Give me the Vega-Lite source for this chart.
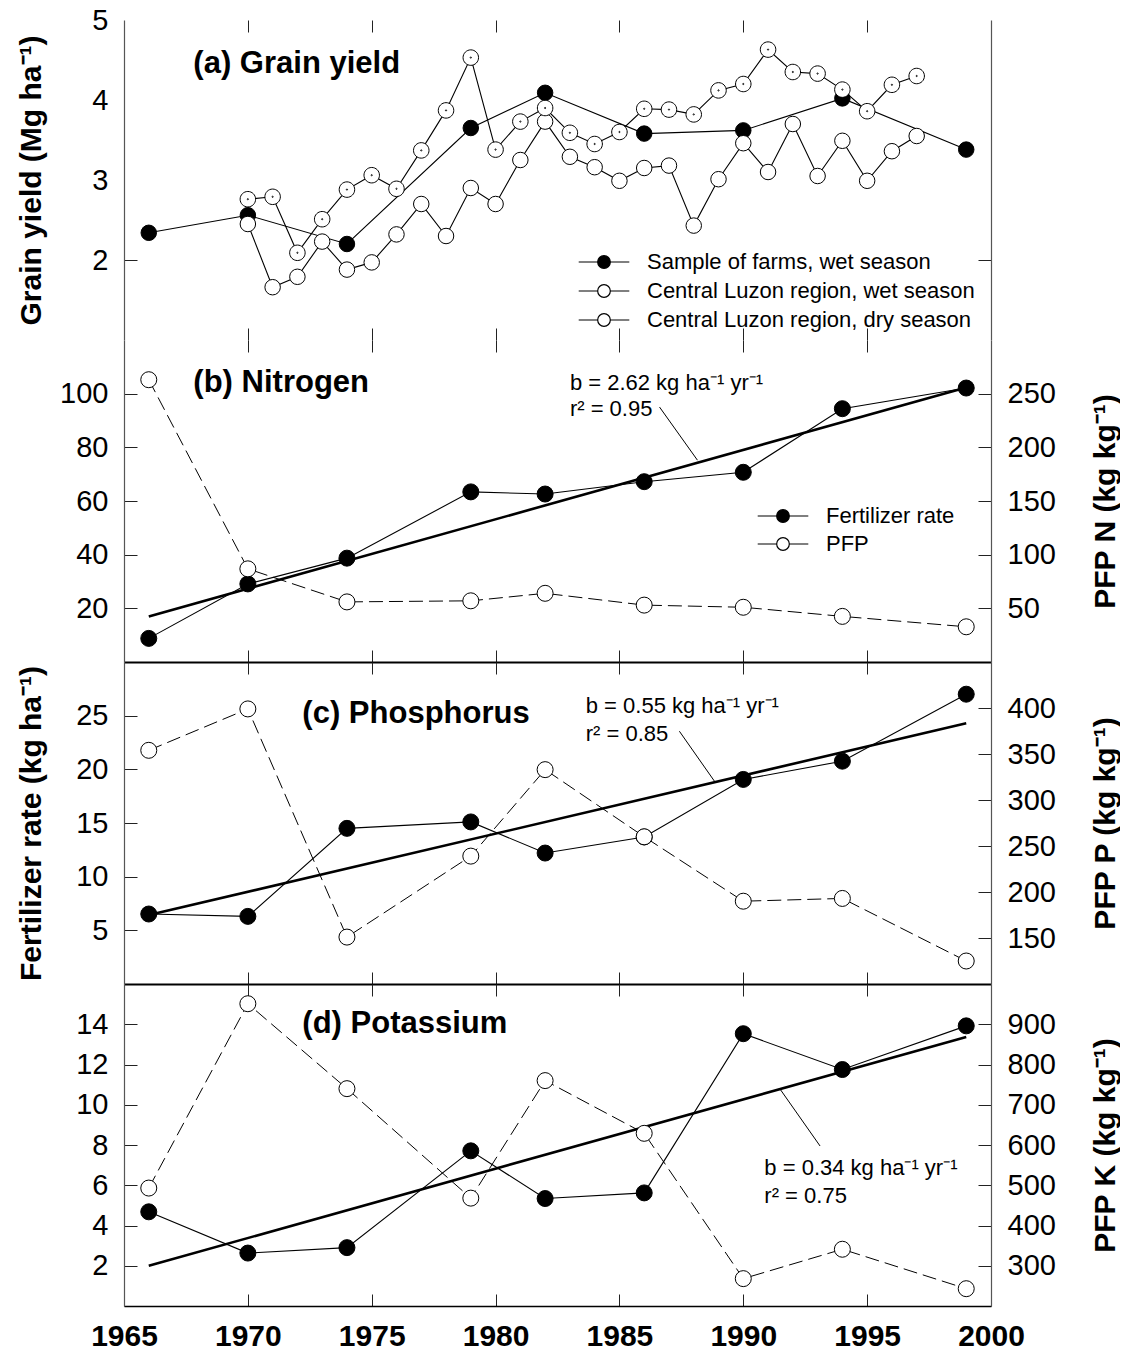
{
  "$schema": "https://vega.github.io/schema/vega-lite/v6.json",
  "background": "white",
  "padding": {"left": 15, "top": 6, "right": 0, "bottom": 0},
  "spacing": 0,
  "bounds": "flush",
  "config": {
    "view": {"stroke": null},
    "font": "Liberation Sans",
    "axis": {"labelFont": "Liberation Sans", "titleFont": "Liberation Sans", "labelColor": "black", "titleColor": "black", "tickColor": "#222", "tickWidth": 1, "domainColor": "#555", "domainWidth": 1.2, "grid": false, "labelFlush": false, "labelOverlap": false},
    "legend": {"labelFont": "Liberation Sans", "labelColor": "black"}
  },
  "datasets": {
    "yield": [
      {"series": "Sample of farms, wet season", "year": 1966, "value": 2.34},
      {"series": "Sample of farms, wet season", "year": 1970, "value": 2.56},
      {"series": "Sample of farms, wet season", "year": 1974, "value": 2.20},
      {"series": "Sample of farms, wet season", "year": 1979, "value": 3.65},
      {"series": "Sample of farms, wet season", "year": 1982, "value": 4.09},
      {"series": "Sample of farms, wet season", "year": 1986, "value": 3.58},
      {"series": "Sample of farms, wet season", "year": 1990, "value": 3.62},
      {"series": "Sample of farms, wet season", "year": 1994, "value": 4.02},
      {"series": "Sample of farms, wet season", "year": 1999, "value": 3.38},
      {"series": "Central Luzon region, wet season", "year": 1970, "value": 2.45},
      {"series": "Central Luzon region, wet season", "year": 1971, "value": 1.66},
      {"series": "Central Luzon region, wet season", "year": 1972, "value": 1.79},
      {"series": "Central Luzon region, wet season", "year": 1973, "value": 2.23},
      {"series": "Central Luzon region, wet season", "year": 1974, "value": 1.88},
      {"series": "Central Luzon region, wet season", "year": 1975, "value": 1.97},
      {"series": "Central Luzon region, wet season", "year": 1976, "value": 2.32},
      {"series": "Central Luzon region, wet season", "year": 1977, "value": 2.70},
      {"series": "Central Luzon region, wet season", "year": 1978, "value": 2.30},
      {"series": "Central Luzon region, wet season", "year": 1979, "value": 2.90},
      {"series": "Central Luzon region, wet season", "year": 1980, "value": 2.70},
      {"series": "Central Luzon region, wet season", "year": 1981, "value": 3.25},
      {"series": "Central Luzon region, wet season", "year": 1982, "value": 3.73},
      {"series": "Central Luzon region, wet season", "year": 1983, "value": 3.29},
      {"series": "Central Luzon region, wet season", "year": 1984, "value": 3.16},
      {"series": "Central Luzon region, wet season", "year": 1985, "value": 2.99},
      {"series": "Central Luzon region, wet season", "year": 1986, "value": 3.15},
      {"series": "Central Luzon region, wet season", "year": 1987, "value": 3.18},
      {"series": "Central Luzon region, wet season", "year": 1988, "value": 2.43},
      {"series": "Central Luzon region, wet season", "year": 1989, "value": 3.01},
      {"series": "Central Luzon region, wet season", "year": 1990, "value": 3.46},
      {"series": "Central Luzon region, wet season", "year": 1991, "value": 3.10},
      {"series": "Central Luzon region, wet season", "year": 1992, "value": 3.70},
      {"series": "Central Luzon region, wet season", "year": 1993, "value": 3.05},
      {"series": "Central Luzon region, wet season", "year": 1994, "value": 3.49},
      {"series": "Central Luzon region, wet season", "year": 1995, "value": 2.99},
      {"series": "Central Luzon region, wet season", "year": 1996, "value": 3.36},
      {"series": "Central Luzon region, wet season", "year": 1997, "value": 3.55},
      {"series": "Central Luzon region, dry season", "year": 1970, "value": 2.76},
      {"series": "Central Luzon region, dry season", "year": 1971, "value": 2.79},
      {"series": "Central Luzon region, dry season", "year": 1972, "value": 2.09},
      {"series": "Central Luzon region, dry season", "year": 1973, "value": 2.51},
      {"series": "Central Luzon region, dry season", "year": 1974, "value": 2.88},
      {"series": "Central Luzon region, dry season", "year": 1975, "value": 3.06},
      {"series": "Central Luzon region, dry season", "year": 1976, "value": 2.89},
      {"series": "Central Luzon region, dry season", "year": 1977, "value": 3.37},
      {"series": "Central Luzon region, dry season", "year": 1978, "value": 3.87},
      {"series": "Central Luzon region, dry season", "year": 1979, "value": 4.53},
      {"series": "Central Luzon region, dry season", "year": 1980, "value": 3.38},
      {"series": "Central Luzon region, dry season", "year": 1981, "value": 3.73},
      {"series": "Central Luzon region, dry season", "year": 1982, "value": 3.90},
      {"series": "Central Luzon region, dry season", "year": 1983, "value": 3.59},
      {"series": "Central Luzon region, dry season", "year": 1984, "value": 3.45},
      {"series": "Central Luzon region, dry season", "year": 1985, "value": 3.60},
      {"series": "Central Luzon region, dry season", "year": 1986, "value": 3.89},
      {"series": "Central Luzon region, dry season", "year": 1987, "value": 3.88},
      {"series": "Central Luzon region, dry season", "year": 1988, "value": 3.82},
      {"series": "Central Luzon region, dry season", "year": 1989, "value": 4.12},
      {"series": "Central Luzon region, dry season", "year": 1990, "value": 4.20},
      {"series": "Central Luzon region, dry season", "year": 1991, "value": 4.63},
      {"series": "Central Luzon region, dry season", "year": 1992, "value": 4.35},
      {"series": "Central Luzon region, dry season", "year": 1993, "value": 4.33},
      {"series": "Central Luzon region, dry season", "year": 1994, "value": 4.13},
      {"series": "Central Luzon region, dry season", "year": 1995, "value": 3.86},
      {"series": "Central Luzon region, dry season", "year": 1996, "value": 4.19},
      {"series": "Central Luzon region, dry season", "year": 1997, "value": 4.30}
    ],
    "nutrients": [
      {"nutrient": "N", "year": 1966, "rate": 8.8, "pfp": 263},
      {"nutrient": "N", "year": 1970, "rate": 29.1, "pfp": 86.8},
      {"nutrient": "N", "year": 1974, "rate": 38.7, "pfp": 56},
      {"nutrient": "N", "year": 1979, "rate": 63.4, "pfp": 57},
      {"nutrient": "N", "year": 1982, "rate": 62.6, "pfp": 64},
      {"nutrient": "N", "year": 1986, "rate": 67.2, "pfp": 53},
      {"nutrient": "N", "year": 1990, "rate": 70.7, "pfp": 51},
      {"nutrient": "N", "year": 1994, "rate": 94.4, "pfp": 42.5},
      {"nutrient": "N", "year": 1999, "rate": 102.1, "pfp": 32.8},
      {"nutrient": "P", "year": 1966, "rate": 6.52, "pfp": 354},
      {"nutrient": "P", "year": 1970, "rate": 6.3, "pfp": 399},
      {"nutrient": "P", "year": 1974, "rate": 14.5, "pfp": 151},
      {"nutrient": "P", "year": 1979, "rate": 15.1, "pfp": 239},
      {"nutrient": "P", "year": 1982, "rate": 12.2, "pfp": 333},
      {"nutrient": "P", "year": 1986, "rate": 13.7, "pfp": 260},
      {"nutrient": "P", "year": 1990, "rate": 19.06, "pfp": 190},
      {"nutrient": "P", "year": 1994, "rate": 20.76, "pfp": 193},
      {"nutrient": "P", "year": 1999, "rate": 27.0, "pfp": 125},
      {"nutrient": "K", "year": 1966, "rate": 4.68, "pfp": 493},
      {"nutrient": "K", "year": 1970, "rate": 2.63, "pfp": 951},
      {"nutrient": "K", "year": 1974, "rate": 2.9, "pfp": 740},
      {"nutrient": "K", "year": 1979, "rate": 7.71, "pfp": 468},
      {"nutrient": "K", "year": 1982, "rate": 5.34, "pfp": 760},
      {"nutrient": "K", "year": 1986, "rate": 5.62, "pfp": 629},
      {"nutrient": "K", "year": 1990, "rate": 13.53, "pfp": 268},
      {"nutrient": "K", "year": 1994, "rate": 11.75, "pfp": 341},
      {"nutrient": "K", "year": 1999, "rate": 13.92, "pfp": 243}
    ],
    "trend": [
      {"nutrient": "N", "year": 1966, "fit": 17.0},
      {"nutrient": "N", "year": 1999, "fit": 102.3},
      {"nutrient": "P", "year": 1966, "fit": 6.42},
      {"nutrient": "P", "year": 1999, "fit": 24.3},
      {"nutrient": "K", "year": 1966, "fit": 2.0},
      {"nutrient": "K", "year": 1999, "fit": 13.37}
    ],
    "notes": [
      {"panel": "a", "kind": "label", "text": "(a) Grain yield"},
      {"panel": "b", "kind": "label", "text": "(b) Nitrogen"},
      {"panel": "b", "kind": "slope", "text": "b = 2.62 kg ha⁻¹ yr⁻¹"},
      {"panel": "b", "kind": "r2", "text": "r² = 0.95"},
      {"panel": "b", "kind": "leader", "text": ""},
      {"panel": "c", "kind": "label", "text": "(c) Phosphorus"},
      {"panel": "c", "kind": "slope", "text": "b = 0.55 kg ha⁻¹ yr⁻¹"},
      {"panel": "c", "kind": "r2", "text": "r² = 0.85"},
      {"panel": "c", "kind": "leader", "text": ""},
      {"panel": "d", "kind": "label", "text": "(d) Potassium"},
      {"panel": "d", "kind": "slope", "text": "b = 0.34 kg ha⁻¹ yr⁻¹"},
      {"panel": "d", "kind": "r2", "text": "r² = 0.75"},
      {"panel": "d", "kind": "leader", "text": ""}
    ]
  },
  "resolve": {"scale": {"fill": "independent", "shape": "independent"}},
  "vconcat": [
    {
      "width": 867,
      "height": 320,
      "data": {"name": "yield"},
      "layer": [
        {
          "mark": {"type": "line", "stroke": "black", "strokeWidth": 1.1},
          "encoding": {
            "x": {"field": "year", "type": "quantitative", "scale": {"domain": [1965, 2000], "nice": false, "zero": false},
                  "axis": {"orient": "top", "values": [1970, 1975, 1980, 1985, 1990, 1995], "labels": false, "domain": false, "tickSize": -12, "title": null}},
            "y": {"field": "value", "type": "quantitative", "scale": {"domain": [1, 5], "nice": false, "zero": false},
                  "axis": {"orient": "left", "values": [2, 3, 4, 5], "tickSize": -13, "tickOpacity": {"condition": {"test": "datum.value == 2", "value": 1}, "value": 0}, "labelPadding": 29, "labelFontSize": 29, "title": "Grain yield (Mg ha⁻¹)", "titleFontSize": 30, "titleFontWeight": "bold", "titleX": -93, "titleBaseline": "middle"}},
            "detail": {"field": "series", "type": "nominal"}
          }
        },
        {
          "transform": [{"filter": "datum.series == 'Sample of farms, wet season'"}],
          "mark": {"type": "point", "shape": "circle", "filled": true, "stroke": "black", "strokeWidth": 1, "size": 240, "opacity": 1},
          "encoding": {
            "x": {"field": "year", "type": "quantitative", "scale": {"domain": [1965, 2000], "nice": false, "zero": false},
                  "axis": {"orient": "bottom", "values": [1970, 1975, 1980, 1985, 1990, 1995], "labels": false, "domain": false, "tickSize": -12, "title": null}},
            "y": {"field": "value", "type": "quantitative", "scale": {"domain": [1, 5], "nice": false, "zero": false},
                  "axis": {"orient": "right", "values": [2, 3, 4, 5], "labels": false, "tickSize": -13, "tickOpacity": {"condition": {"test": "datum.value == 2", "value": 1}, "value": 0}, "title": null}},
            "fill": {"datum": "Sample of farms, wet season", "type": "nominal",
                     "scale": {"domain": ["Sample of farms, wet season", "Central Luzon region, wet season", "Central Luzon region, dry season"], "range": ["black", "white", "white"]},
                     "legend": {"title": null, "orient": "none", "legendX": 469, "legendY": 231, "symbolType": "M-4,0H-1M1,0H4M-1,0A1,1,0,1,1,1,0A1,1,0,1,1,-1,0Z", "symbolSize": 160, "symbolStrokeColor": "black", "symbolStrokeWidth": 1.2, "symbolOpacity": 1, "labelFontSize": 22, "labelOffset": 32, "labelLimit": 600, "rowPadding": 7, "padding": 0}}
          }
        },
        {
          "transform": [{"filter": "datum.series == 'Central Luzon region, wet season'"}],
          "mark": {"type": "point", "shape": "circle", "filled": true, "stroke": "black", "strokeWidth": 1, "size": 240, "opacity": 1},
          "encoding": {
            "x": {"field": "year", "type": "quantitative", "axis": null},
            "y": {"field": "value", "type": "quantitative", "axis": null},
            "fill": {"datum": "Central Luzon region, wet season", "type": "nominal",
                     "scale": {"domain": ["Sample of farms, wet season", "Central Luzon region, wet season", "Central Luzon region, dry season"], "range": ["black", "white", "white"]},
                     "legend": {"title": null, "orient": "none", "legendX": 469, "legendY": 231, "symbolType": "M-4,0H-1M1,0H4M-1,0A1,1,0,1,1,1,0A1,1,0,1,1,-1,0Z", "symbolSize": 160, "symbolStrokeColor": "black", "symbolStrokeWidth": 1.2, "symbolOpacity": 1, "labelFontSize": 22, "labelOffset": 32, "labelLimit": 600, "rowPadding": 7, "padding": 0}}
          }
        },
        {
          "transform": [{"filter": "datum.series == 'Central Luzon region, dry season'"}],
          "mark": {"type": "point", "shape": "M-1,0A1,1,0,1,1,1,0A1,1,0,1,1,-1,0ZM-0.08,0A0.08,0.08,0,1,1,0.08,0A0.08,0.08,0,1,1,-0.08,0Z", "filled": true, "stroke": "black", "strokeWidth": 1, "size": 240, "opacity": 1},
          "encoding": {
            "x": {"field": "year", "type": "quantitative", "axis": null},
            "y": {"field": "value", "type": "quantitative", "axis": null},
            "fill": {"datum": "Central Luzon region, dry season", "type": "nominal",
                     "scale": {"domain": ["Sample of farms, wet season", "Central Luzon region, wet season", "Central Luzon region, dry season"], "range": ["black", "white", "white"]},
                     "legend": {"title": null, "orient": "none", "legendX": 469, "legendY": 231, "symbolType": "M-4,0H-1M1,0H4M-1,0A1,1,0,1,1,1,0A1,1,0,1,1,-1,0Z", "symbolSize": 160, "symbolStrokeColor": "black", "symbolStrokeWidth": 1.2, "symbolOpacity": 1, "labelFontSize": 22, "labelOffset": 32, "labelLimit": 600, "rowPadding": 7, "padding": 0}}
          }
        },
        {
          "data": {"name": "notes"},
          "transform": [{"filter": "datum.panel == 'a' && datum.kind == 'label'"}],
          "mark": {"type": "text", "align": "left", "baseline": "middle", "fontSize": 31, "fontWeight": "bold", "color": "black"},
          "encoding": {
            "x": {"datum": 1967.8, "type": "quantitative", "axis": null},
            "y": {"datum": 4.45, "type": "quantitative", "axis": null},
            "text": {"field": "text"}
          }
        }
      ]
    },
    {
      "width": 867,
      "height": 322,
      "resolve": {"scale": {"y": "independent"}},
      "layer": [
        {
          "data": {"name": "trend"},
          "transform": [{"filter": "datum.nutrient == 'N'"}],
          "mark": {"type": "line", "stroke": "black", "strokeWidth": 2.6},
          "encoding": {
            "x": {"field": "year", "type": "quantitative", "scale": {"domain": [1965, 2000], "nice": false, "zero": false},
                  "axis": {"orient": "top", "values": [1970, 1975, 1980, 1985, 1990, 1995], "labels": false, "domain": false, "tickSize": -12, "title": null}},
            "y": {"field": "fit", "type": "quantitative", "scale": {"domain": [0, 120], "nice": false, "zero": false},
                  "axis": {"orient": "left", "values": [20, 40, 60, 80, 100], "tickSize": -13, "labelPadding": 29, "labelFontSize": 29, "title": null}}
          }
        },
        {
          "data": {"name": "nutrients"},
          "transform": [{"filter": "datum.nutrient == 'N'"}],
          "mark": {"type": "line", "stroke": "black", "strokeWidth": 1.1},
          "encoding": {
            "x": {"field": "year", "type": "quantitative",
                  "axis": {"orient": "bottom", "values": [1970, 1975, 1980, 1985, 1990, 1995], "labels": false, "domain": true, "domainColor": "black", "domainWidth": 2.2, "tickSize": -12, "title": null}},
            "y": {"field": "rate", "type": "quantitative", "scale": {"domain": [0, 120], "nice": false, "zero": false}, "axis": null}
          }
        },
        {
          "data": {"name": "nutrients"},
          "transform": [{"filter": "datum.nutrient == 'N'"}],
          "mark": {"type": "point", "shape": "circle", "filled": true, "stroke": "black", "strokeWidth": 1, "size": 256, "opacity": 1},
          "encoding": {
            "x": {"field": "year", "type": "quantitative", "axis": null},
            "y": {"field": "rate", "type": "quantitative", "scale": {"domain": [0, 120], "nice": false, "zero": false}, "axis": null},
            "fill": {"datum": "Fertilizer rate", "type": "nominal", "scale": {"domain": ["Fertilizer rate", "PFP"], "range": ["black", "white"]},
                     "legend": {"title": null, "orient": "none", "legendX": 648, "legendY": 165, "symbolType": "M-4,0H-1M1,0H4M-1,0A1,1,0,1,1,1,0A1,1,0,1,1,-1,0Z", "symbolSize": 160, "symbolStrokeColor": "black", "symbolStrokeWidth": 1.2, "symbolOpacity": 1, "labelFontSize": 22, "labelOffset": 32, "labelLimit": 600, "rowPadding": 6, "padding": 0}}
          }
        },
        {
          "data": {"name": "notes"},
          "transform": [{"filter": "datum.panel == 'b' && datum.kind == 'leader'"}],
          "mark": {"type": "rule", "stroke": "black", "strokeWidth": 1},
          "encoding": {
            "x": {"datum": 1986.62, "type": "quantitative", "axis": null},
            "y": {"datum": 95.0, "type": "quantitative", "scale": {"domain": [0, 120], "nice": false, "zero": false}, "axis": null},
            "x2": {"datum": 1988.15},
            "y2": {"datum": 75.2}
          }
        },
        {
          "data": {"name": "notes"},
          "transform": [{"filter": "datum.panel == 'b' && datum.kind == 'slope'"}],
          "mark": {"type": "text", "align": "left", "baseline": "middle", "fontSize": 22, "color": "black"},
          "encoding": {
            "x": {"datum": 1983.0, "type": "quantitative", "axis": null},
            "y": {"datum": 104.0, "type": "quantitative", "scale": {"domain": [0, 120], "nice": false, "zero": false}, "axis": null},
            "text": {"field": "text"}
          }
        },
        {
          "data": {"name": "notes"},
          "transform": [{"filter": "datum.panel == 'b' && datum.kind == 'r2'"}],
          "mark": {"type": "text", "align": "left", "baseline": "middle", "fontSize": 22, "color": "black"},
          "encoding": {
            "x": {"datum": 1983.0, "type": "quantitative", "axis": null},
            "y": {"datum": 94.2, "type": "quantitative", "scale": {"domain": [0, 120], "nice": false, "zero": false}, "axis": null},
            "text": {"field": "text"}
          }
        },
        {
          "data": {"name": "notes"},
          "transform": [{"filter": "datum.panel == 'b' && datum.kind == 'label'"}],
          "mark": {"type": "text", "align": "left", "baseline": "middle", "fontSize": 31, "fontWeight": "bold", "color": "black"},
          "encoding": {
            "x": {"datum": 1967.8, "type": "quantitative", "axis": null},
            "y": {"datum": 104.0, "type": "quantitative", "scale": {"domain": [0, 120], "nice": false, "zero": false}, "axis": null},
            "text": {"field": "text"}
          }
        },
        {
          "data": {"name": "nutrients"},
          "transform": [{"filter": "datum.nutrient == 'N'"}],
          "mark": {"type": "line", "stroke": "black", "strokeWidth": 1, "strokeDash": [14, 6]},
          "encoding": {
            "x": {"field": "year", "type": "quantitative", "axis": null},
            "y": {"field": "pfp", "type": "quantitative", "scale": {"domain": [0, 300], "nice": false, "zero": false},
                  "axis": {"orient": "right", "values": [50, 100, 150, 200, 250], "tickSize": -13, "labelPadding": 29, "labelFontSize": 29, "title": "PFP N (kg kg⁻¹)", "titleFontSize": 30, "titleFontWeight": "bold", "titleAngle": 270, "titleX": 114, "titleBaseline": "middle"}}
          }
        },
        {
          "data": {"name": "nutrients"},
          "transform": [{"filter": "datum.nutrient == 'N'"}],
          "mark": {"type": "point", "shape": "circle", "filled": true, "stroke": "black", "strokeWidth": 1, "size": 256, "opacity": 1},
          "encoding": {
            "x": {"field": "year", "type": "quantitative", "axis": null},
            "y": {"field": "pfp", "type": "quantitative", "scale": {"domain": [0, 300], "nice": false, "zero": false}, "axis": null},
            "fill": {"datum": "PFP", "type": "nominal", "scale": {"domain": ["Fertilizer rate", "PFP"], "range": ["black", "white"]},
                     "legend": {"title": null, "orient": "none", "legendX": 648, "legendY": 165, "symbolType": "M-4,0H-1M1,0H4M-1,0A1,1,0,1,1,1,0A1,1,0,1,1,-1,0Z", "symbolSize": 160, "symbolStrokeColor": "black", "symbolStrokeWidth": 1.2, "symbolOpacity": 1, "labelFontSize": 22, "labelOffset": 32, "labelLimit": 600, "rowPadding": 6, "padding": 0}}
          }
        }
      ]
    },
    {
      "width": 867,
      "height": 322,
      "resolve": {"scale": {"y": "independent"}},
      "layer": [
        {
          "data": {"name": "trend"},
          "transform": [{"filter": "datum.nutrient == 'P'"}],
          "mark": {"type": "line", "stroke": "black", "strokeWidth": 2.6},
          "encoding": {
            "x": {"field": "year", "type": "quantitative", "scale": {"domain": [1965, 2000], "nice": false, "zero": false},
                  "axis": {"orient": "top", "values": [1970, 1975, 1980, 1985, 1990, 1995], "labels": false, "domain": false, "tickSize": -12, "title": null}},
            "y": {"field": "fit", "type": "quantitative", "scale": {"domain": [0, 30], "nice": false, "zero": false},
                  "axis": {"orient": "left", "values": [5, 10, 15, 20, 25], "tickSize": -13, "labelPadding": 29, "labelFontSize": 29, "title": "Fertilizer rate (kg ha⁻¹)", "titleFontSize": 30, "titleFontWeight": "bold", "titleX": -93, "titleBaseline": "middle"}}
          }
        },
        {
          "data": {"name": "nutrients"},
          "transform": [{"filter": "datum.nutrient == 'P'"}],
          "mark": {"type": "line", "stroke": "black", "strokeWidth": 1.1},
          "encoding": {
            "x": {"field": "year", "type": "quantitative",
                  "axis": {"orient": "bottom", "values": [1970, 1975, 1980, 1985, 1990, 1995], "labels": false, "domain": true, "domainColor": "black", "domainWidth": 2.2, "tickSize": -12, "title": null}},
            "y": {"field": "rate", "type": "quantitative", "scale": {"domain": [0, 30], "nice": false, "zero": false}, "axis": null}
          }
        },
        {
          "data": {"name": "nutrients"},
          "transform": [{"filter": "datum.nutrient == 'P'"}],
          "mark": {"type": "point", "shape": "circle", "filled": true, "fill": "black", "stroke": "black", "strokeWidth": 1, "size": 256, "opacity": 1},
          "encoding": {
            "x": {"field": "year", "type": "quantitative", "axis": null},
            "y": {"field": "rate", "type": "quantitative", "scale": {"domain": [0, 30], "nice": false, "zero": false}, "axis": null}
          }
        },
        {
          "data": {"name": "notes"},
          "transform": [{"filter": "datum.panel == 'c' && datum.kind == 'leader'"}],
          "mark": {"type": "rule", "stroke": "black", "strokeWidth": 1},
          "encoding": {
            "x": {"datum": 1987.42, "type": "quantitative", "axis": null},
            "y": {"datum": 23.55, "type": "quantitative", "scale": {"domain": [0, 30], "nice": false, "zero": false}, "axis": null},
            "x2": {"datum": 1988.88},
            "y2": {"datum": 18.75}
          }
        },
        {
          "data": {"name": "notes"},
          "transform": [{"filter": "datum.panel == 'c' && datum.kind == 'slope'"}],
          "mark": {"type": "text", "align": "left", "baseline": "middle", "fontSize": 22, "color": "black"},
          "encoding": {
            "x": {"datum": 1983.64, "type": "quantitative", "axis": null},
            "y": {"datum": 25.9, "type": "quantitative", "scale": {"domain": [0, 30], "nice": false, "zero": false}, "axis": null},
            "text": {"field": "text"}
          }
        },
        {
          "data": {"name": "notes"},
          "transform": [{"filter": "datum.panel == 'c' && datum.kind == 'r2'"}],
          "mark": {"type": "text", "align": "left", "baseline": "middle", "fontSize": 22, "color": "black"},
          "encoding": {
            "x": {"datum": 1983.64, "type": "quantitative", "axis": null},
            "y": {"datum": 23.3, "type": "quantitative", "scale": {"domain": [0, 30], "nice": false, "zero": false}, "axis": null},
            "text": {"field": "text"}
          }
        },
        {
          "data": {"name": "notes"},
          "transform": [{"filter": "datum.panel == 'c' && datum.kind == 'label'"}],
          "mark": {"type": "text", "align": "left", "baseline": "middle", "fontSize": 31, "fontWeight": "bold", "color": "black"},
          "encoding": {
            "x": {"datum": 1972.2, "type": "quantitative", "axis": null},
            "y": {"datum": 25.2, "type": "quantitative", "scale": {"domain": [0, 30], "nice": false, "zero": false}, "axis": null},
            "text": {"field": "text"}
          }
        },
        {
          "data": {"name": "nutrients"},
          "transform": [{"filter": "datum.nutrient == 'P'"}],
          "mark": {"type": "line", "stroke": "black", "strokeWidth": 1, "strokeDash": [14, 6]},
          "encoding": {
            "x": {"field": "year", "type": "quantitative", "axis": null},
            "y": {"field": "pfp", "type": "quantitative", "scale": {"domain": [100, 450], "nice": false, "zero": false},
                  "axis": {"orient": "right", "values": [150, 200, 250, 300, 350, 400], "tickSize": -13, "labelPadding": 29, "labelFontSize": 29, "title": "PFP P (kg kg⁻¹)", "titleFontSize": 30, "titleFontWeight": "bold", "titleAngle": 270, "titleX": 114, "titleBaseline": "middle"}}
          }
        },
        {
          "data": {"name": "nutrients"},
          "transform": [{"filter": "datum.nutrient == 'P'"}],
          "mark": {"type": "point", "shape": "circle", "filled": true, "fill": "white", "stroke": "black", "strokeWidth": 1, "size": 256, "opacity": 1},
          "encoding": {
            "x": {"field": "year", "type": "quantitative", "axis": null},
            "y": {"field": "pfp", "type": "quantitative", "scale": {"domain": [100, 450], "nice": false, "zero": false}, "axis": null}
          }
        }
      ]
    },
    {
      "width": 867,
      "height": 322,
      "resolve": {"scale": {"y": "independent"}},
      "layer": [
        {
          "data": {"name": "trend"},
          "transform": [{"filter": "datum.nutrient == 'K'"}],
          "mark": {"type": "line", "stroke": "black", "strokeWidth": 2.6},
          "encoding": {
            "x": {"field": "year", "type": "quantitative", "scale": {"domain": [1965, 2000], "nice": false, "zero": false},
                  "axis": {"orient": "top", "values": [1970, 1975, 1980, 1985, 1990, 1995], "labels": false, "domain": false, "tickSize": -12, "title": null}},
            "y": {"field": "fit", "type": "quantitative", "scale": {"domain": [0, 16], "nice": false, "zero": false},
                  "axis": {"orient": "left", "values": [2, 4, 6, 8, 10, 12, 14], "tickSize": -13, "labelPadding": 29, "labelFontSize": 29, "title": null}}
          }
        },
        {
          "data": {"name": "nutrients"},
          "transform": [{"filter": "datum.nutrient == 'K'"}],
          "mark": {"type": "line", "stroke": "black", "strokeWidth": 1.1},
          "encoding": {
            "x": {"field": "year", "type": "quantitative",
                  "axis": {"orient": "bottom", "values": [1965, 1970, 1975, 1980, 1985, 1990, 1995, 2000], "format": "d", "labels": true, "labelFontSize": 30, "labelFontWeight": "bold", "labelPadding": 27, "domain": true, "domainColor": "black", "domainWidth": 1.5, "tickSize": -12, "title": null}},
            "y": {"field": "rate", "type": "quantitative", "scale": {"domain": [0, 16], "nice": false, "zero": false}, "axis": null}
          }
        },
        {
          "data": {"name": "nutrients"},
          "transform": [{"filter": "datum.nutrient == 'K'"}],
          "mark": {"type": "point", "shape": "circle", "filled": true, "fill": "black", "stroke": "black", "strokeWidth": 1, "size": 256, "opacity": 1},
          "encoding": {
            "x": {"field": "year", "type": "quantitative", "axis": null},
            "y": {"field": "rate", "type": "quantitative", "scale": {"domain": [0, 16], "nice": false, "zero": false}, "axis": null}
          }
        },
        {
          "data": {"name": "notes"},
          "transform": [{"filter": "datum.panel == 'd' && datum.kind == 'leader'"}],
          "mark": {"type": "rule", "stroke": "black", "strokeWidth": 1},
          "encoding": {
            "x": {"datum": 1993.1, "type": "quantitative", "axis": null},
            "y": {"datum": 7.95, "type": "quantitative", "scale": {"domain": [0, 16], "nice": false, "zero": false}, "axis": null},
            "x2": {"datum": 1991.5},
            "y2": {"datum": 10.75}
          }
        },
        {
          "data": {"name": "notes"},
          "transform": [{"filter": "datum.panel == 'd' && datum.kind == 'slope'"}],
          "mark": {"type": "text", "align": "left", "baseline": "middle", "fontSize": 22, "color": "black"},
          "encoding": {
            "x": {"datum": 1990.85, "type": "quantitative", "axis": null},
            "y": {"datum": 6.87, "type": "quantitative", "scale": {"domain": [0, 16], "nice": false, "zero": false}, "axis": null},
            "text": {"field": "text"}
          }
        },
        {
          "data": {"name": "notes"},
          "transform": [{"filter": "datum.panel == 'd' && datum.kind == 'r2'"}],
          "mark": {"type": "text", "align": "left", "baseline": "middle", "fontSize": 22, "color": "black"},
          "encoding": {
            "x": {"datum": 1990.85, "type": "quantitative", "axis": null},
            "y": {"datum": 5.45, "type": "quantitative", "scale": {"domain": [0, 16], "nice": false, "zero": false}, "axis": null},
            "text": {"field": "text"}
          }
        },
        {
          "data": {"name": "notes"},
          "transform": [{"filter": "datum.panel == 'd' && datum.kind == 'label'"}],
          "mark": {"type": "text", "align": "left", "baseline": "middle", "fontSize": 31, "fontWeight": "bold", "color": "black"},
          "encoding": {
            "x": {"datum": 1972.2, "type": "quantitative", "axis": null},
            "y": {"datum": 14.0, "type": "quantitative", "scale": {"domain": [0, 16], "nice": false, "zero": false}, "axis": null},
            "text": {"field": "text"}
          }
        },
        {
          "data": {"name": "nutrients"},
          "transform": [{"filter": "datum.nutrient == 'K'"}],
          "mark": {"type": "line", "stroke": "black", "strokeWidth": 1, "strokeDash": [14, 6]},
          "encoding": {
            "x": {"field": "year", "type": "quantitative", "axis": null},
            "y": {"field": "pfp", "type": "quantitative", "scale": {"domain": [200, 1000], "nice": false, "zero": false},
                  "axis": {"orient": "right", "values": [300, 400, 500, 600, 700, 800, 900], "tickSize": -13, "labelPadding": 29, "labelFontSize": 29, "title": "PFP K (kg kg⁻¹)", "titleFontSize": 30, "titleFontWeight": "bold", "titleAngle": 270, "titleX": 114, "titleBaseline": "middle"}}
          }
        },
        {
          "data": {"name": "nutrients"},
          "transform": [{"filter": "datum.nutrient == 'K'"}],
          "mark": {"type": "point", "shape": "circle", "filled": true, "fill": "white", "stroke": "black", "strokeWidth": 1, "size": 256, "opacity": 1},
          "encoding": {
            "x": {"field": "year", "type": "quantitative", "axis": null},
            "y": {"field": "pfp", "type": "quantitative", "scale": {"domain": [200, 1000], "nice": false, "zero": false}, "axis": null}
          }
        }
      ]
    }
  ]
}
